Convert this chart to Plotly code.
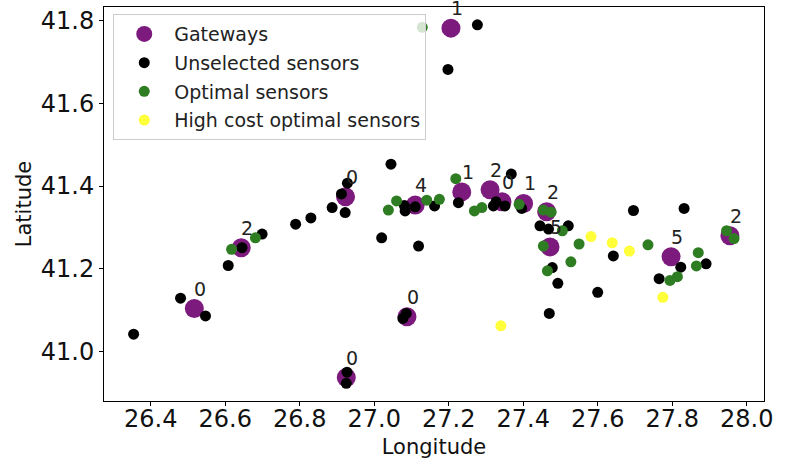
import plotly.graph_objects as go

# Gateways
gw_lon = [27.206, 26.923, 26.643, 26.517, 26.925, 27.088, 27.110, 27.235,
          27.311, 27.343, 27.401, 27.463, 27.472, 27.797, 27.955]
gw_lat = [41.782, 41.374, 41.251, 41.104, 40.937, 41.084, 41.354, 41.386,
          41.391, 41.362, 41.358, 41.338, 41.253, 41.229, 41.280]
gw_labels = ["1", "0", "2", "0", "0", "0", "4", "1", "2", "0", "1", "2", "5", "5", "2"]

# Unselected sensors
un_lon = [26.354, 26.480, 26.547, 26.608, 26.645, 26.699, 26.789, 26.830, 26.887,
          26.922, 26.912, 26.928, 26.927, 26.925, 27.045, 27.020, 27.119, 27.081,
          27.083, 27.110, 27.162, 27.226, 27.327, 27.320, 27.351, 27.368, 27.396,
          27.445, 27.468, 27.521, 27.478, 27.493, 27.470, 27.600, 27.642, 27.696,
          27.832, 27.823, 27.765, 27.891, 27.277, 27.198, 27.086, 27.077]
un_lat = [41.042, 41.129, 41.086, 41.208, 41.251, 41.284, 41.308, 41.323, 41.348,
          41.336, 41.381, 41.407, 40.950, 40.923, 41.453, 41.275, 41.255, 41.353,
          41.340, 41.350, 41.352, 41.360, 41.362, 41.352, 41.352, 41.429, 41.346,
          41.304, 41.296, 41.304, 41.203, 41.165, 41.092, 41.143, 41.231, 41.341,
          41.346, 41.204, 41.176, 41.212, 41.790, 41.682, 41.092, 41.080]

# Optimal sensors
opt_lon = [27.038, 27.060, 27.141, 27.175, 27.219, 27.269, 27.289, 27.389, 27.454,
           27.475, 27.505, 27.454, 27.550, 27.528, 27.465, 27.735, 27.870, 27.865,
           27.814, 27.794, 27.946, 27.966, 27.129, 26.617, 26.681]
opt_lat = [41.342, 41.364, 41.366, 41.368, 41.418, 41.340, 41.348, 41.356, 41.342,
           41.337, 41.292, 41.255, 41.260, 41.217, 41.195, 41.258, 41.239, 41.207,
           41.181, 41.172, 41.292, 41.273, 41.784, 41.247, 41.275]

# High cost optimal sensors
hc_lon = [27.340, 27.582, 27.639, 27.685, 27.775]
hc_lat = [41.062, 41.278, 41.263, 41.243, 41.131]

x_ticks = [26.4, 26.6, 26.8, 27.0, 27.2, 27.4, 27.6, 27.8, 28.0]
y_ticks = [41.0, 41.2, 41.4, 41.6, 41.8]

FONT = "DejaVu Sans"

fig = go.Figure()
fig.add_trace(go.Scatter(x=gw_lon, y=gw_lat, mode="markers", name="Gateways", legendgroup="a",
                         marker=dict(color="#7d1a7e", size=19, line=dict(width=0))))
fig.add_trace(go.Scatter(x=un_lon, y=un_lat, mode="markers", name="Unselected sensors", legendgroup="b",
                         marker=dict(color="black", size=11, line=dict(width=0))))
fig.add_trace(go.Scatter(x=opt_lon, y=opt_lat, mode="markers", name="Optimal sensors", legendgroup="c",
                         marker=dict(color="#2f7d22", size=11, line=dict(width=0))))
fig.add_trace(go.Scatter(x=hc_lon, y=hc_lat, mode="markers", name="High cost optimal sensors",
                         legendgroup="d",
                         marker=dict(color="#ffff3a", size=11, line=dict(width=0))))

for lon, lat, lab in zip(gw_lon, gw_lat, gw_labels):
    fig.add_annotation(x=lon, y=lat, text=lab, showarrow=False, xshift=6, yshift=20,
                       font=dict(family=FONT, size=19, color="#222222"))

axis_common = dict(showgrid=False, zeroline=False, showline=True, linecolor="black",
                   linewidth=1, mirror=True, ticks="outside", ticklen=4, tickwidth=1,
                   tickcolor="black", automargin=False, ticklabeloverflow="allow",
                   tickfont=dict(family=FONT, size=24, color="#111111"))

fig.update_xaxes(range=[26.2745, 28.0465], tickvals=x_ticks, tickformat=".1f",
                 ticklabelstandoff=-8,
                 title=dict(text="Longitude", font=dict(family=FONT, size=21, color="#111111"),
                            standoff=14), **axis_common)
fig.update_yaxes(range=[40.8803, 41.8331], tickvals=y_ticks, tickformat=".1f",
                 title=dict(text="Latitude", font=dict(family=FONT, size=21, color="#111111"),
                            standoff=3), **axis_common)

fig.update_layout(
    width=797, height=459,
    margin=dict(l=104, r=33, t=7, b=58),
    plot_bgcolor="white", paper_bgcolor="white",
    font=dict(family=FONT, color="#111111"),
    legend=dict(x=0.014, y=0.982, xanchor="left", yanchor="top",
                bgcolor="rgba(255,255,255,0.8)", bordercolor="#cccccc", borderwidth=1,
                font=dict(family=FONT, size=19, color="#222222"), itemsizing="trace",
                itemwidth=50, tracegroupgap=1),
)

# remove the browser's default 8px body margin so the figure fills the window
fig.write_html("out.html", config={"displayModeBar": False},
               post_script="document.body.style.margin='0';")
